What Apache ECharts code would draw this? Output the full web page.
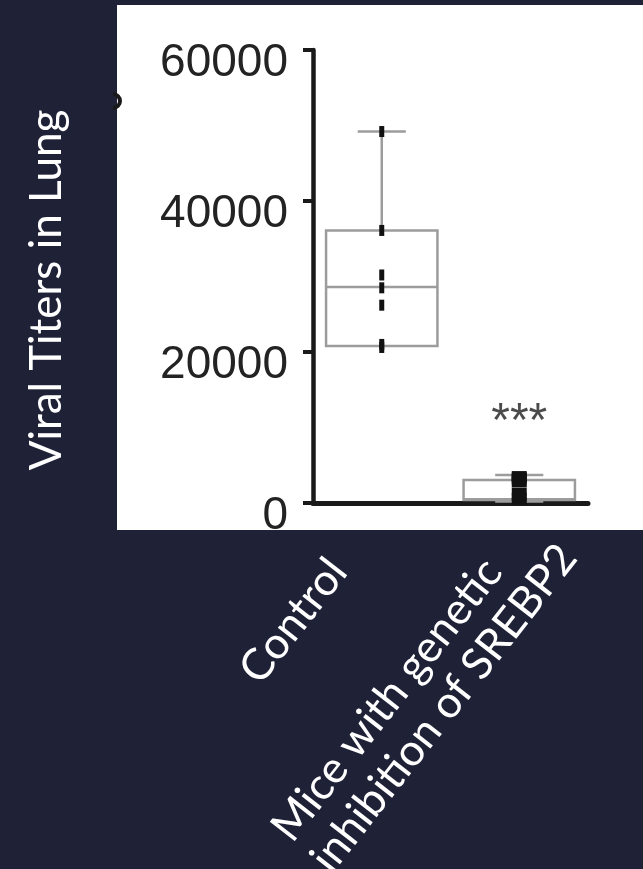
<!DOCTYPE html>
<html><head><meta charset="utf-8">
<script src="https://cdn.jsdelivr.net/npm/echarts@6/dist/echarts.min.js"></script>
<style>html,body{margin:0;padding:0;background:#1f2237}#c{width:643px;height:869px}</style>
</head><body><div id="c"></div>
<script>
// ---- data ----
const categories = ['Control', 'Mice with genetic\ninhibition of SREBP2'];
const yTickMin = 0, yTickMax = 60000, yTickStep = 20000;
// [lower whisker, Q1, median, Q3, upper whisker]
const controlBox = [20800, 20800, 28600, 36100, 49200];
const miceBox = [200, 400, 500, 3050, 3700];
const controlPoints = [49200, 36100, 30200, 28500, 26200, 21000, 20600];
const micePoints = [3700, 3500, 3300, 3000, 2600, 1500, 800, 300];
const yTitle = 'Viral Titers in Lung';
const sigText = ['', '***'];
const sigValue = [null, 10600];

// ---- chart ----
const chart = echarts.init(document.getElementById('c'), null, {renderer: 'canvas'});
const labelPads = [[0, 68, 5, 0], [73, 0, 0, 0]];
const boxData = [[0].concat(controlBox), [1].concat(miceBox)];
const pointData = controlPoints.map(v => [0, v]).concat(micePoints.map(v => [1, v]));
const sigData = [];
sigText.forEach((t, i) => { if (t) sigData.push({value: [i, sigValue[i]], text: t}); });

const option = {
  backgroundColor: '#1f2237',
  animation: false,
  grid: {left: 313, right: 55, top: 50, bottom: 366, containLabel: false, outerBoundsMode: 'none'},
  graphic: [
    {type: 'rect', z: -10, shape: {x: 117, y: 5, width: 526, height: 525}, style: {fill: '#ffffff'}},
    {type: 'arc', z: -9, shape: {cx: 113, cy: 101, r: 7, startAngle: -Math.PI / 2, endAngle: Math.PI / 2},
     style: {stroke: '#1a1a1a', lineWidth: 4, fill: null}},
    {type: 'text', x: 47, y: 290, rotation: Math.PI / 2,
     style: {text: yTitle, fill: '#ffffff', fontFamily: 'Lato', fontSize: 44, align: 'center', verticalAlign: 'middle'}}
  ],
  xAxis: {
    type: 'category',
    data: categories.map((c, i) => ({value: c, textStyle: {padding: labelPads[i]}})),
    boundaryGap: true,
    axisLine: {show: true, lineStyle: {color: '#1a1a1a', width: 5}},
    axisTick: {show: false},
    splitLine: {show: false},
    axisLabel: {
      interval: 0, rotate: 52, margin: 9, color: '#ffffff',
      fontFamily: 'Lato', fontSize: 44, lineHeight: 50,
      formatter: v => v.split('\n').map(s => '{l|' + s + '}').join('\n'),
      rich: {l: {align: 'left', color: '#ffffff', fontFamily: 'Lato', fontSize: 44, lineHeight: 50}}
    }
  },
  yAxis: {
    type: 'value', min: yTickMin, max: yTickMax, interval: yTickStep,
    axisLine: {show: true, lineStyle: {color: '#1a1a1a', width: 4.5}},
    axisTick: {show: true, length: 10, lineStyle: {color: '#1a1a1a', width: 4}},
    splitLine: {show: false},
    axisLabel: {
      color: '#232323', fontFamily: 'Liberation Sans', fontSize: 46, margin: 25,
      formatter: v => '{a|' + v + '}',
      rich: {a: {color: '#232323', fontFamily: 'Liberation Sans', fontSize: 46, lineHeight: 46, padding: [26, 0, 0, 0]}}
    }
  },
  series: [
    {
      type: 'custom',
      data: boxData,
      encode: {x: 0, y: [1, 2, 3, 4, 5]},
      z: 2,
      renderItem: function (params, api) {
        const ci = api.value(0);
        const lo = api.coord([ci, api.value(1)]);
        const q1 = api.coord([ci, api.value(2)]);
        const md = api.coord([ci, api.value(3)]);
        const q3 = api.coord([ci, api.value(4)]);
        const hi = api.coord([ci, api.value(5)]);
        const band = api.size([1, 0])[0];
        const bw = band * 0.81, cw = band * 0.35;
        const x = q1[0];
        const st = {stroke: '#9c9c9c', lineWidth: 2.5, fill: null};
        const ch = [
          {type: 'rect', shape: {x: x - bw / 2, y: q3[1], width: bw, height: q1[1] - q3[1]}, style: {stroke: '#9c9c9c', lineWidth: 2.5, fill: '#ffffff'}},
          {type: 'line', shape: {x1: x - bw / 2, y1: md[1], x2: x + bw / 2, y2: md[1]}, style: st},
          {type: 'line', shape: {x1: x, y1: q3[1], x2: x, y2: hi[1]}, style: st},
          {type: 'line', shape: {x1: x - cw / 2, y1: hi[1], x2: x + cw / 2, y2: hi[1]}, style: st}
        ];
        if (lo[1] - q1[1] > 1) {
          ch.push({type: 'line', shape: {x1: x, y1: q1[1], x2: x, y2: lo[1]}, style: st});
          ch.push({type: 'line', shape: {x1: x - cw / 2, y1: lo[1], x2: x + cw / 2, y2: lo[1]}, style: st});
        }
        return {type: 'group', children: ch};
      }
    },
    {
      type: 'scatter',
      data: pointData,
      z: 3,
      symbol: 'rect',
      symbolSize: v => (v[0] === 0 ? [5, 11] : [15, 8]),
      itemStyle: {color: '#111111', opacity: 1}
    },
    {
      type: 'scatter',
      data: sigData,
      z: 4,
      symbolSize: 0,
      silent: true,
      label: {show: true, position: 'inside', formatter: p => p.data.text, color: '#1e1e1e', fontFamily: 'Liberation Sans', fontSize: 48}
    }
  ]
};
chart.setOption(option);
</script>
</body></html>
